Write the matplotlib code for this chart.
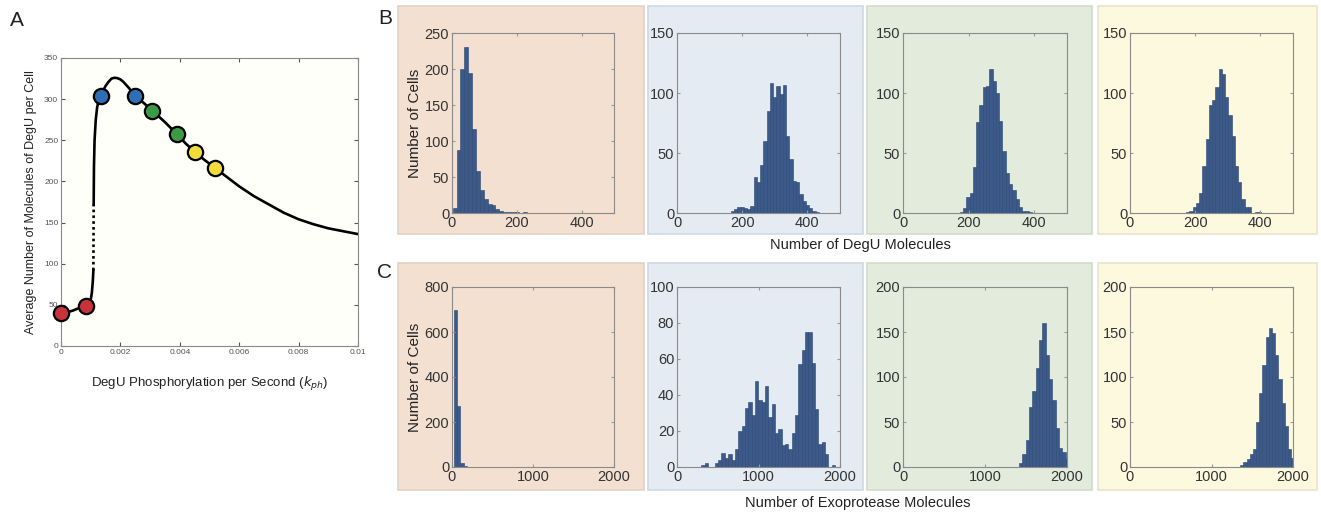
import numpy as np
import matplotlib.pyplot as plt
from matplotlib.patches import Rectangle

plt.rcParams['font.family'] = ['Liberation Sans', 'DejaVu Sans']

W, H = 1321, 514

# --- panel A: mean DegU vs phosphorylation rate ---
low_k = [0.0, 0.0002, 0.0004, 0.0006, 0.00083, 0.00092, 0.00097, 0.00101, 0.00104,
         0.00107, 0.00109]
low_n = [40, 41, 43, 46, 49, 51, 54, 58, 65, 78, 92]
gap_k = [0.00109, 0.00110]
gap_n = [92, 172]
high_k = [0.00110, 0.00111, 0.00113, 0.00117, 0.00122, 0.00128, 0.00133, 0.0014,
          0.0015, 0.0016, 0.0017, 0.0018, 0.0019, 0.0020, 0.0021, 0.0022, 0.0023,
          0.0024, 0.00249, 0.0027, 0.00308, 0.0035, 0.00389, 0.0042, 0.00451,
          0.0048, 0.0052, 0.0056, 0.0060, 0.0065, 0.0070, 0.0075, 0.0080, 0.0085,
          0.0090, 0.0095, 0.0100]
high_n = [172, 218, 250, 275, 291, 299, 304, 309, 316, 321, 325, 326, 325.5, 324,
          321, 317, 313, 308, 304, 298, 286, 272, 258, 246, 236, 227, 216, 205,
          194, 182, 172, 162, 154, 148, 143, 139.5, 136]

dot_k = [0.0, 0.00083, 0.00133, 0.00249, 0.00308, 0.00389, 0.00451, 0.00520]
dot_n = [40, 49, 304, 304, 286, 258, 236, 216]
dot_col = ['#c8323a', '#c8323a', '#2f6db5', '#2f6db5', '#3c9a46', '#3c9a46',
           '#f1dc3c', '#f1dc3c']

# --- panel B: DegU histograms (bin start, bin width, counts) ---
degu_start = [2, 165, 173, 172]
degu_width = [12, 10, 10, 10]
degu_counts = [
    [7, 88, 200, 231, 195, 116, 58, 32, 20, 12, 11, 6, 3, 2, 2, 1, 1, 0, 1, 0],
    [2, 3, 5, 5, 4, 3, 6, 30, 26, 40, 60, 85, 108, 97, 106, 99, 107, 64, 45, 27,
     26, 16, 10, 7, 4, 2, 1],
    [1, 4, 13, 17, 38, 76, 90, 105, 106, 120, 110, 100, 77, 52, 33, 24, 19, 12, 5,
     2, 1.5, 0.5],
    [1, 2, 5, 8, 17, 39, 62, 90, 94, 105, 120, 116, 97, 82, 64, 39, 26, 12, 5, 5,
     0, 0.5, 1],
]
degu_ymax = [250, 150, 150, 150]

# --- panel C: exoprotease histograms ---
exo_start = [20, 300, 1412, 1352]
exo_width = [41, 41, 41, 39]
exo_counts = [
    [700, 272, 18, 4, 1, 1],
    [1, 2, 0, 0, 2, 4, 8, 5, 7, 4, 10, 20, 23, 33, 36, 29, 48, 37, 36, 45, 28, 35,
     19, 21, 12, 13, 10, 19, 29, 57, 65, 75, 75, 58, 32, 13, 14, 7, 0, 1],
    [4, 14, 30, 67, 84, 110, 141, 160, 125, 98, 74, 43, 21, 17, 9],
    [2, 5.5, 9, 15, 20, 50, 82, 113, 145, 155, 149, 125, 98, 71, 46, 20, 10],
]
exo_ymax = [800, 100, 200, 200]
exo_yticks = [[0, 200, 400, 600, 800], [0, 20, 40, 60, 80, 100],
              [0, 50, 100, 150, 200], [0, 50, 100, 150, 200]]

box_colors = ['#f3e0d1', '#e5ebf3', '#e2ebdc', '#fcf9df']
box_edges = ['#e2d2c4', '#d3d9e2', '#d2dccc', '#e8e5cc']
box_x = [(398, 644), (648, 863), (867, 1092), (1098, 1317)]
ax_x = [(452, 614), (677, 840), (903, 1067), (1130, 1293)]
bar_color = '#3b5a8a'


def rect(x0, y0, x1, y1):
    return [x0 / W, 1 - y1 / H, (x1 - x0) / W, (y1 - y0) / H]


fig = plt.figure(figsize=(W / 100, H / 100), dpi=100)

# background tiles behind the histograms
for (bx0, bx1), fc, ec in zip(box_x, box_colors, box_edges):
    for by0, by1 in [(6, 234), (263, 490)]:
        r = rect(bx0, by0, bx1, by1)
        fig.patches.append(Rectangle((r[0], r[1]), r[2], r[3], transform=fig.transFigure,
                                     facecolor=fc, edgecolor=ec, linewidth=1.2, zorder=-5))

# panel A
axA = fig.add_axes(rect(61, 58, 358, 346))
axA.set_facecolor('#fffffa')
axA.plot(low_k, low_n, color='black', lw=1.9, zorder=2)
axA.plot(gap_k, gap_n, color='black', lw=1.9, ls=(0, (1, 1.2)), zorder=2)
axA.plot(high_k, high_n, color='black', lw=1.9, zorder=2)
for k, n, c in zip(dot_k, dot_n, dot_col):
    axA.plot(k, n, 'o', ms=11, mfc=c, mec='black', mew=1.6, zorder=3, clip_on=False)
axA.set_xlim(0, 0.01)
axA.set_ylim(0, 350)
axA.set_xticks([0, 0.002, 0.004, 0.006, 0.008, 0.01])
axA.set_xticklabels(['0', '0.002', '0.004', '0.006', '0.008', '0.01'])
axA.set_yticks(range(0, 351, 50))
axA.tick_params(direction='in', top=True, right=True, length=3, labelsize=6,
                colors='#555', pad=2)
for s in axA.spines.values():
    s.set_color('#888')
axA.set_ylabel('Average Number of Molecules of DegU per Cell', fontsize=9, color='#222', labelpad=5)
axA.set_xlabel('DegU Phosphorylation per Second ($k_{ph}$)', fontsize=9.5, color='#222', labelpad=14)


def style_hist(ax):
    ax.set_facecolor('none')
    ax.tick_params(direction='in', top=True, right=True, length=2.5, labelsize=10.5,
                   colors='#333', pad=2)
    ax.tick_params(axis='both', color='#999')
    for s in ax.spines.values():
        s.set_color('#8a8a8a')


for i, (x0, x1) in enumerate(ax_x):
    ax = fig.add_axes(rect(x0, 33, x1, 213))
    cnt = degu_counts[i]
    left = degu_start[i] + degu_width[i] * np.arange(len(cnt))
    ax.bar(left, cnt, width=degu_width[i], align='edge', color=bar_color,
           edgecolor='#2b4672', linewidth=0.4)
    ax.set_xlim(0, 500)
    ax.set_ylim(0, degu_ymax[i])
    ax.set_xticks([0, 200, 400])
    ax.set_yticks(range(0, degu_ymax[i] + 1, 50))
    style_hist(ax)
    if i == 0:
        ax.set_ylabel('Number of Cells', fontsize=11, color='#222', labelpad=2)

    ax = fig.add_axes(rect(x0, 287, x1, 467))
    cnt = exo_counts[i]
    left = exo_start[i] + exo_width[i] * np.arange(len(cnt))
    ax.bar(left, cnt, width=exo_width[i], align='edge', color=bar_color,
           edgecolor='#2b4672', linewidth=0.4)
    ax.set_xlim(0, 2000)
    ax.set_ylim(0, exo_ymax[i])
    ax.set_xticks([0, 1000, 2000])
    ax.set_yticks(exo_yticks[i])
    style_hist(ax)
    if i == 0:
        ax.set_ylabel('Number of Cells', fontsize=11, color='#222', labelpad=2)

fig.text(860 / W, 1 - 245 / H, 'Number of DegU Molecules', ha='center', va='center',
         fontsize=10.5, color='#222')
fig.text(858 / W, 1 - 503 / H, 'Number of Exoprotease Molecules', ha='center', va='center',
         fontsize=10.5, color='#222')

fig.text(17 / W, 1 - 20 / H, 'A', ha='center', va='center', fontsize=15, color='#222')
fig.text(385 / W, 1 - 18 / H, 'B', ha='center', va='center', fontsize=15, color='#222')
fig.text(385 / W, 1 - 272 / H, 'C', ha='center', va='center', fontsize=15, color='#222')

fig.savefig('out.png', dpi=100)
